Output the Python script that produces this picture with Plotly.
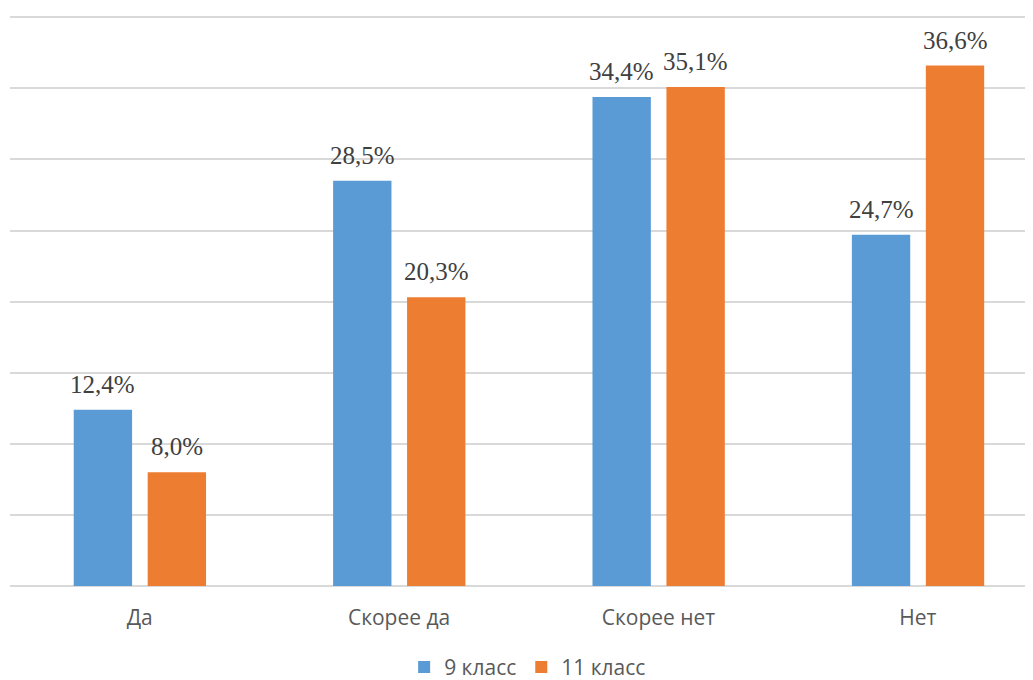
import plotly.graph_objects as go

categories = ["Да", "Скорее да", "Скорее нет", "Нет"]
series_names = ["9 класс", "11 класс"]
grade9 = [12.4, 28.5, 34.4, 24.7]
grade11 = [8.0, 20.3, 35.1, 36.6]
colors = ["#5B9BD5", "#ED7D31"]

BAR_W = 0.225
OFFSETS = [-0.2543, 0.0308]

def fmt(v):
    return f"{v:.1f}%".replace(".", ",")

fig = go.Figure()
for name, vals, col, off in [(series_names[0], grade9, colors[0], OFFSETS[0]),
                             (series_names[1], grade11, colors[1], OFFSETS[1])]:
    fig.add_trace(go.Bar(
        x=list(range(len(categories))), y=vals, name=name,
        marker=dict(color=col, line=dict(width=0)),
        width=BAR_W, offset=off,
    ))
    for i, v in enumerate(vals):
        fig.add_annotation(
            x=i + off + BAR_W / 2, y=v, xref="x", yref="y",
            text=fmt(v), showarrow=False, yanchor="bottom", xanchor="center",
            yshift=10,
            font=dict(family="Liberation Serif", size=25, color="#404040"),
        )

fig.update_layout(
    width=1025, height=672,
    margin=dict(l=1.6, r=0, t=4.8, b=93.5, autoexpand=False),
    paper_bgcolor="white", plot_bgcolor="white",
    barmode="group",
    showlegend=True,
    legend=dict(orientation="h", x=0.506, xanchor="center",
                yref="container", y=0.019, yanchor="middle",
                font=dict(family="Open Sans", size=21, color="#595959"),
                itemclick=False),
    xaxis=dict(range=[-0.5, 3.444], tickmode="array",
               tickvals=list(range(len(categories))), ticktext=categories,
               showgrid=False, showline=False, zeroline=False, ticks="",
               ticklabelstandoff=17,
               tickfont=dict(family="Open Sans", size=21, color="#595959")),
    yaxis=dict(range=[0, 40.3], dtick=5, showticklabels=False,
               showgrid=True, gridcolor="#D9D9D9", gridwidth=2,
               zeroline=True, zerolinecolor="#D9D9D9", zerolinewidth=2,
               showline=False, ticks=""),
)

fig.write_html("out.html")
